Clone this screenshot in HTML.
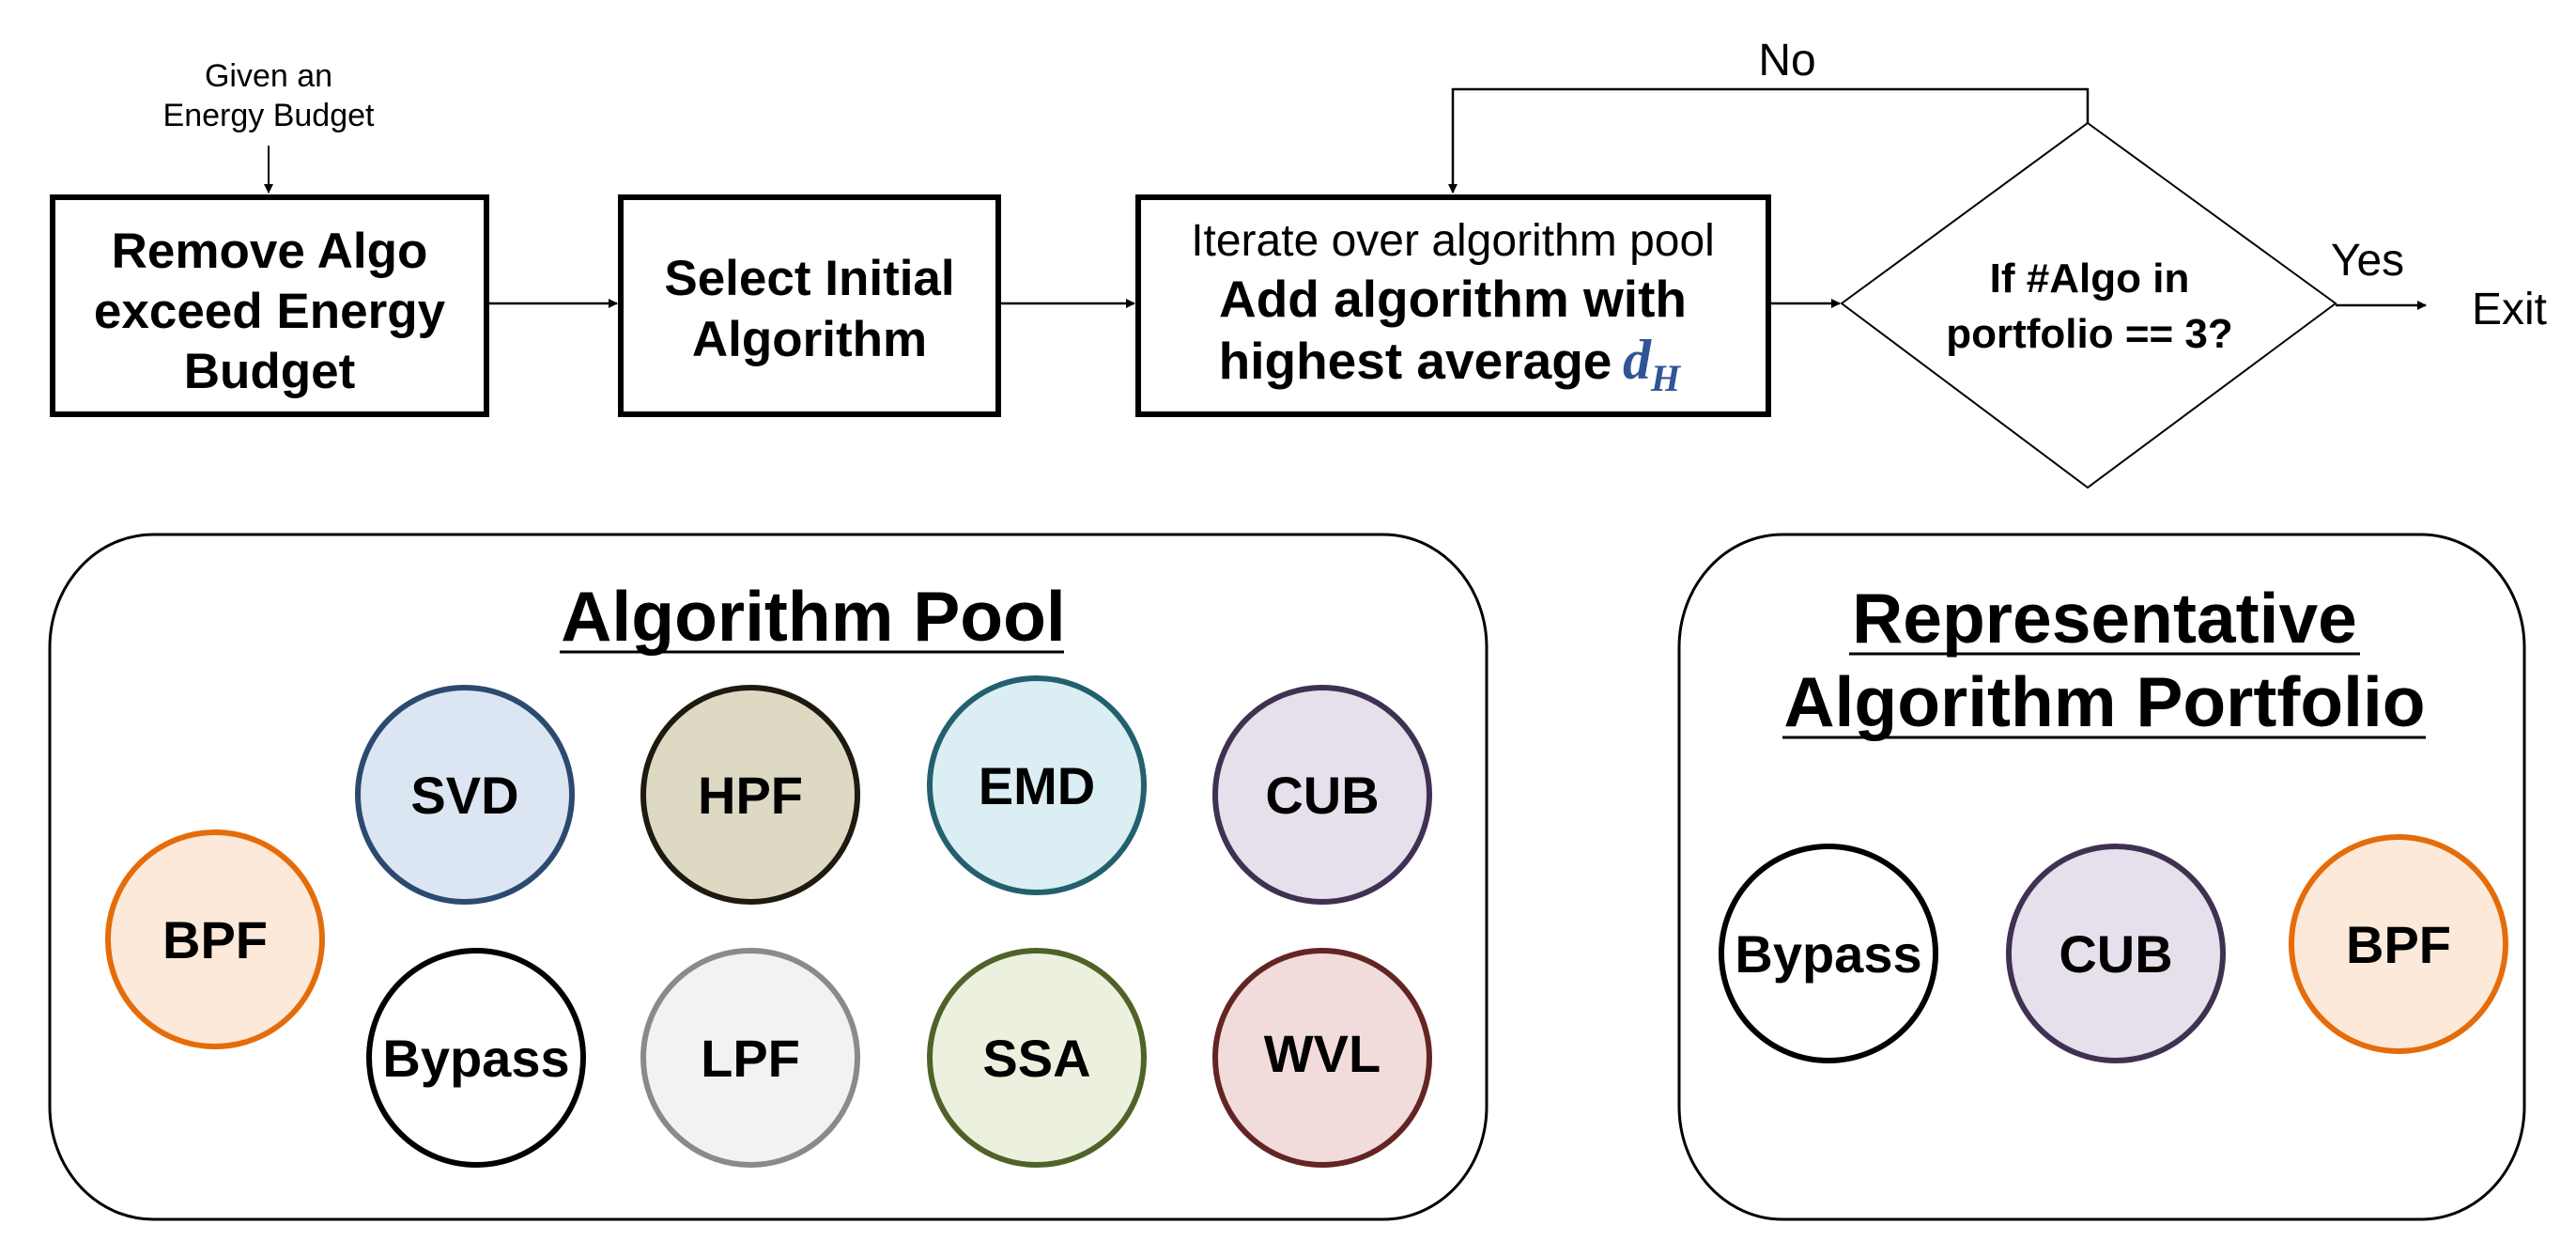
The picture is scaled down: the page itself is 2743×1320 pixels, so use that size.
<!DOCTYPE html>
<html><head><meta charset="utf-8"><style>
html,body{margin:0;padding:0;background:#fff}
svg{display:block}
text{font-family:"Liberation Sans",Arial,sans-serif}
.b{font-weight:bold}
</style></head><body>
<svg width="2743" height="1320" viewBox="0 0 2743 1320" xmlns="http://www.w3.org/2000/svg">
<defs>
<marker id="ah" markerWidth="10" markerHeight="10" refX="9" refY="5" orient="auto" markerUnits="userSpaceOnUse" viewBox="0 0 10 10">
<path d="M0,0 L10,5 L0,10 Z" fill="#000"/></marker>
</defs>
<g fill="none" stroke="#000">
<rect x="56" y="210" width="462" height="231" stroke-width="6"/>
<rect x="661" y="210" width="402" height="231" stroke-width="6"/>
<rect x="1212" y="210" width="671" height="231" stroke-width="6"/>
<polygon points="2223,131 2487,323 2223,519 1961,323" stroke-width="2"/>
<line x1="286" y1="155" x2="286" y2="205" stroke-width="2" marker-end="url(#ah)"/>
<line x1="521" y1="323" x2="657" y2="323" stroke-width="2.5" marker-end="url(#ah)"/>
<line x1="1066" y1="323" x2="1208" y2="323" stroke-width="2.5" marker-end="url(#ah)"/>
<line x1="1886" y1="323" x2="1959" y2="323" stroke-width="2.5" marker-end="url(#ah)"/>
<line x1="2487" y1="325" x2="2583" y2="325" stroke-width="2.5" marker-end="url(#ah)"/>
<polyline points="2223,131 2223,95 1547,95 1547,205" stroke-width="2.5" marker-end="url(#ah)"/>
<rect x="53" y="569" width="1530" height="729" rx="110" ry="120" stroke-width="3"/>
<rect x="1788" y="569" width="900" height="729" rx="110" ry="120" stroke-width="3"/>
<line x1="596" y1="694" x2="1133" y2="694" stroke-width="3"/>
<line x1="1969" y1="696" x2="2513" y2="696" stroke-width="3"/>
<line x1="1898" y1="785" x2="2583" y2="785" stroke-width="3"/>
</g>
<g stroke-width="6">
<circle cx="495" cy="846" r="114" fill="#dce6f2" stroke="#2c4a70"/>
<circle cx="799" cy="846" r="114" fill="#ddd9c3" stroke="#1e1a10"/>
<circle cx="1104" cy="836" r="114" fill="#daeef3" stroke="#23606e"/>
<circle cx="1408" cy="846" r="114" fill="#e6e0ec" stroke="#403152"/>
<circle cx="229" cy="1000" r="114" fill="#fde9d9" stroke="#e46c0a"/>
<circle cx="507" cy="1126" r="114" fill="#ffffff" stroke="#000"/>
<circle cx="799" cy="1126" r="114" fill="#f2f2f2" stroke="#8a8a8a"/>
<circle cx="1104" cy="1126" r="114" fill="#ebf1de" stroke="#4f6228"/>
<circle cx="1408" cy="1126" r="114" fill="#f2dcdb" stroke="#632523"/>
<circle cx="1947" cy="1015" r="114" fill="#ffffff" stroke="#000"/>
<circle cx="2253" cy="1015" r="114" fill="#e6e0ec" stroke="#403152"/>
<circle cx="2554" cy="1005" r="114" fill="#fde9d9" stroke="#e46c0a"/>
</g>
<g text-anchor="middle" fill="#000">
<text x="286" y="92" font-size="34">Given an</text>
<text x="286" y="134" font-size="34">Energy Budget</text>
<text class="b" x="287" y="285" font-size="53">Remove Algo</text>
<text class="b" x="287" y="349" font-size="53">exceed Energy</text>
<text class="b" x="287" y="413" font-size="53">Budget</text>
<text class="b" x="862" y="314" font-size="53">Select Initial</text>
<text class="b" x="862" y="379" font-size="53">Algorithm</text>
<text x="1547" y="272" font-size="48">Iterate over algorithm pool</text>
<text class="b" x="1547" y="337" font-size="55">Add algorithm with</text>
<text class="b" x="1507" y="403" font-size="55">highest average</text>
<text x="1728" y="403" font-size="60" style="font-family:'Liberation Serif',serif;font-style:italic;font-weight:bold" fill="#2f5597" text-anchor="start">d</text>
<text x="1758" y="416" font-size="40" style="font-family:'Liberation Serif',serif;font-style:italic;font-weight:bold" fill="#2f5597" text-anchor="start">H</text>
<text class="b" x="2225" y="311" font-size="44">If #Algo in</text>
<text class="b" x="2225" y="370" font-size="44">portfolio == 3?</text>
<text x="1903" y="80" font-size="48">No</text>
<text x="2521" y="293" font-size="48">Yes</text>
<text x="2672" y="345" font-size="48">Exit</text>
<text class="b" x="866" y="682" font-size="75">Algorithm Pool</text>
<text class="b" x="2241" y="684" font-size="75">Representative</text>
<text class="b" x="2241" y="773" font-size="75">Algorithm Portfolio</text>
<g font-size="56">
<text x="495" y="866" class="b">SVD</text>
<text x="799" y="866" class="b">HPF</text>
<text x="1104" y="856" class="b">EMD</text>
<text x="1408" y="866" class="b">CUB</text>
<text x="229" y="1020" class="b">BPF</text>
<text x="507" y="1146" class="b">Bypass</text>
<text x="799" y="1146" class="b">LPF</text>
<text x="1104" y="1146" class="b">SSA</text>
<text x="1408" y="1141" class="b">WVL</text>
<text x="1947" y="1035" class="b">Bypass</text>
<text x="2253" y="1035" class="b">CUB</text>
<text x="2554" y="1025" class="b">BPF</text>
</g>
</g>
</svg>
</body></html>
